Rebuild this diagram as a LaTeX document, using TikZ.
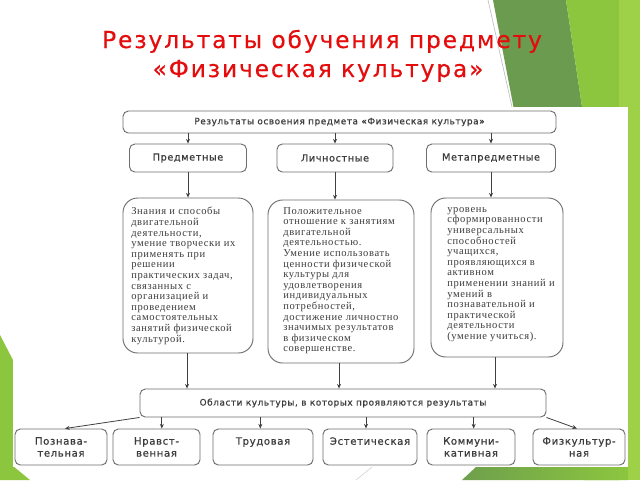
\documentclass[tikz,border=0pt]{standalone}
\usepackage{fontspec}
\setmainfont{Liberation Serif}
\setsansfont{DejaVu Sans}
\newfontfamily\titlefont[LetterSpace=8,FakeBold=0.4]{DejaVu Sans}
\newfontfamily\labelfont[LetterSpace=6,FakeBold=0.6]{DejaVu Sans}
\newfontfamily\bodyfont[LetterSpace=6]{Liberation Serif}
\usetikzlibrary{arrows.meta,calc}
\definecolor{titlered}{RGB}{228,12,12}
\definecolor{dkgreen}{RGB}{107,155,78}
\definecolor{ltgreen}{RGB}{140,198,63}
\definecolor{yelgreen}{RGB}{158,208,72}
\definecolor{boxgray}{RGB}{110,110,110}
\definecolor{txtgray}{RGB}{60,60,60}
\begin{document}
\begin{tikzpicture}[x=0.75pt,y=-0.75pt,
  sz/.style 2 args={minimum width=#1*0.75pt, minimum height=#2*0.75pt},
  box/.style={draw=boxgray, line width=0.7pt, rounded corners=4pt, fill=white, inner sep=0pt,
    align=center, text=txtgray, font=\labelfont\fontsize{7.3}{8.5}\selectfont},
  widebox/.style={box, font=\labelfont\fontsize{6.7}{8.5}\selectfont},
  lowbox/.style={box, font=\labelfont\fontsize{7.6}{9}\selectfont},
  bigbox/.style={draw=boxgray, line width=0.7pt, rounded corners=11pt, fill=white, inner sep=0pt},
  bodytext/.style={anchor=north west, inner sep=0pt, align=left, text=txtgray,
    font=\bodyfont\fontsize{7.9}{7.95}\selectfont},
  arr/.style={-{Stealth[length=3.5pt,width=3pt]}, line width=0.6pt, draw=black!75},
  ttl/.style={anchor=base, inner sep=0pt, text=titlered, font=\titlefont\fontsize{17.5}{20}\selectfont}
]
\useasboundingbox (0,0) rectangle (640,480);
% slide background decorations
\fill[white] (0,0) rectangle (640,480);
\fill[dkgreen] (493,0) -- (566,0) -- (584,120) -- (516,120) -- cycle;
\fill[ltgreen] (566,0) -- (619,0) -- (619,480) -- (584,480) -- (584,120) -- cycle;
\fill[yelgreen] (619,0) -- (640,0) -- (640,480) -- (619,480) -- cycle;
\draw[black!25, line width=0.5pt] (488,0) -- (512,107);
\fill[ltgreen] (0,335) -- (13,360) -- (13,466) -- (30,480) -- (0,480) -- cycle;
\shade[left color=dkgreen!90!ltgreen, right color=ltgreen] (462,480) -- (476,467) -- (628,467) -- (628,480) -- cycle;
\draw[black!20, line width=0.4pt] (356,480) -- (372,467);
% image area
\fill[white] (13,107) rectangle (628,467);

% title
\node[ttl] (t1) at (322,48) {Результаты обучения предмету};
\node[ttl] (t2) at (318,77) {«Физическая культура»};

% top box
\node[widebox, sz={433}{22}] (top) at (339.5,122) {Результаты освоения предмета «Физическая культура»};
% second row
\node[box, sz={117}{28}] (pred) at (188,158) {Предметные};
\node[box, sz={116}{28}] (lich) at (335,158) {Личностные};
\node[box, sz={129}{28}] (meta) at (491,158) {Метапредметные};
% third row
\node[bigbox, sz={130}{155}] (b1) at (188,275.5) {};
\node[bigbox, sz={146}{163}] (b2) at (341,281.5) {};
\node[bigbox, sz={132}{159}] (b3) at (497,277.5) {};
\node[bodytext] (b1t) at (131,207) {Знания и способы\\двигательной\\деятельности,\\умение творчески их\\применять при\\решении\\практических задач,\\связанных с\\организацией и\\проведением\\самостоятельных\\занятий физической\\культурой.};
\node[bodytext] (b2t) at (283,207) {Положительное\\отношение к занятиям\\двигательной\\деятельностью.\\Умение использовать\\ценности физической\\культуры для\\удовлетворения\\индивидуальных\\потребностей,\\достижение личностно\\значимых результатов\\в физическом\\совершенстве.};
\node[bodytext] (b3t) at (447,207) {уровень\\сформированности\\универсальных\\способностей\\учащихся,\\проявляющихся в\\активном\\применении знаний и\\умений в\\познавательной и\\практической\\деятельности\\(умение учиться).};
% fourth row
\node[widebox, sz={406}{28}] (area) at (343,403) {Области культуры, в которых проявляются результаты};
% bottom row
\node[lowbox, sz={92}{36}] (p1) at (61,447) {Познава-\\тельная};
\node[lowbox, sz={87}{36}] (p2) at (156.5,447) {Нравст-\\венная};
\node[lowbox, sz={100}{36}] (p3) at (263,447) {Трудовая\\~};
\node[lowbox, sz={94}{36}] (p4) at (370,447) {Эстетическая\\~};
\node[lowbox, sz={88}{36}] (p5) at (471,447) {Коммуни-\\кативная};
\node[lowbox, sz={92}{36}] (p6) at (579,447) {Физкультур-\\ная};

% connectors
\draw[arr] (top.south -| pred.north) -- (pred.north);
\draw[arr] (top.south -| lich.north) -- (lich.north);
\draw[arr] (top.south -| meta.north) -- (meta.north);
\draw[arr] (pred.south) -- (b1.north);
\draw[arr] (lich.south) -- (lich.south |- b2.north);
\draw[arr] (meta.south) -- (meta.south |- b3.north);
\draw[arr] ([xshift=-0.75pt]b1.south) -- ([xshift=-0.75pt]b1.south |- area.north);
\draw[arr] ([xshift=-1.5pt]b2.south) -- ([xshift=-1.5pt]b2.south |- area.north);
\draw[arr] ([xshift=-1.5pt]b3.south) -- ([xshift=-1.5pt]b3.south |- area.north);
\draw[arr] (area.south west) -- ([xshift=3pt]p1.north);
\draw[arr] ([xshift=4pt]area.south -| p2.north) -- ([xshift=4pt]p2.north);
\draw[arr] ([xshift=-2pt]area.south -| p3.north) -- ([xshift=-2pt]p3.north);
\draw[arr] ([xshift=-3pt]area.south -| p4.north) -- ([xshift=-3pt]p4.north);
\draw[arr] ([xshift=2pt]area.south -| p5.north) -- ([xshift=2pt]p5.north);
\draw[arr] (area.south east) -- ([xshift=-1.5pt]p6.north);
\end{tikzpicture}
\end{document}
